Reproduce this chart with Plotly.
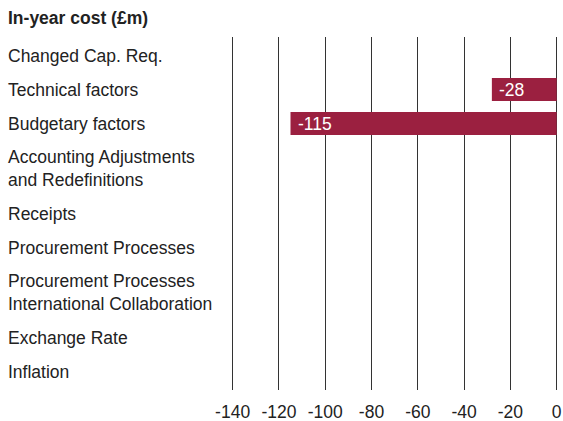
import plotly.graph_objects as go

# Chart data
title = "In-year cost (£m)"
categories = [
    "Changed Cap. Req.",
    "Technical factors",
    "Budgetary factors",
    "Accounting Adjustments<br>and Redefinitions",
    "Receipts",
    "Procurement Processes",
    "Procurement Processes<br>International Collaboration",
    "Exchange Rate",
    "Inflation",
]
values = [None, -28, -115, None, None, None, None, None, None]
x_ticks = [-140, -120, -100, -80, -60, -40, -20, 0]
x_range = [-142, 1]

# Layout geometry (pixels)
W, H = 563, 421
ML, MR, MT, MB = 228, 4, 37, 31
PLOT_W = W - ML - MR
PLOT_H = H - MT - MB
ROW_TOP = 1.5       # gap above the first row
ROW_BASE = 34       # height of a one-line row
ROW_EXTRA = 22      # extra height per additional text line
BAR_W = 23

BAR_COLOR = "#9b2040"
TEXT_COLOR = "#222222"
FONT = "Liberation Sans, Arial, sans-serif"
FS = 17.5

# Row centres in pixel units (y axis runs top-down)
centers = []
pos = ROW_TOP
for c in categories:
    h = ROW_BASE + ROW_EXTRA * c.count("<br>")
    centers.append(pos + h / 2)
    pos += h

fig = go.Figure(
    go.Bar(
        x=values, y=centers, orientation="h", width=BAR_W,
        marker=dict(color=BAR_COLOR, line=dict(width=0)), hoverinfo="skip",
    )
)

annotations = []
label_x = (8 - ML) / PLOT_W
for c, yc in zip(categories, centers):
    annotations.append(dict(
        x=label_x, xref="paper", y=yc, yref="y", text=c, xshift=-2,
        xanchor="left", yanchor="middle", align="left", showarrow=False,
        font=dict(family=FONT, size=FS, color=TEXT_COLOR),
    ))

# value labels inside the left end of each bar
for v, yc in zip(values, centers):
    if v is None:
        continue
    annotations.append(dict(
        x=v, xref="x", y=yc, yref="y", text=f"{v:g}",
        xanchor="left", yanchor="middle", showarrow=False, xshift=5,
        font=dict(family=FONT, size=FS, color="white"),
    ))

annotations.append(dict(
    x=label_x, xref="paper", y=(H - MB - 18) / PLOT_H, yref="paper",
    xshift=-2, yanchor="middle", xanchor="left", text=f"<b>{title}</b>",
    showarrow=False, font=dict(family=FONT, size=17.5, color=TEXT_COLOR),
))

fig.update_layout(
    width=W, height=H,
    margin=dict(l=ML, r=MR, t=MT, b=MB, pad=0),
    paper_bgcolor="white", plot_bgcolor="white",
    showlegend=False,
    annotations=annotations,
    xaxis=dict(
        range=x_range, tickvals=x_ticks, ticktext=[f"{t:g}" for t in x_ticks],
        showgrid=True, gridcolor="#333333", gridwidth=1,
        zeroline=False, showline=False, ticks="", automargin=False,
        ticklabelstandoff=9,
        tickfont=dict(family=FONT, size=FS, color=TEXT_COLOR),
        fixedrange=True,
    ),
    yaxis=dict(
        range=[PLOT_H, 0], showgrid=False, zeroline=False, showline=False,
        showticklabels=False, ticks="", automargin=False, fixedrange=True,
    ),
)

fig.write_html("out.html")
